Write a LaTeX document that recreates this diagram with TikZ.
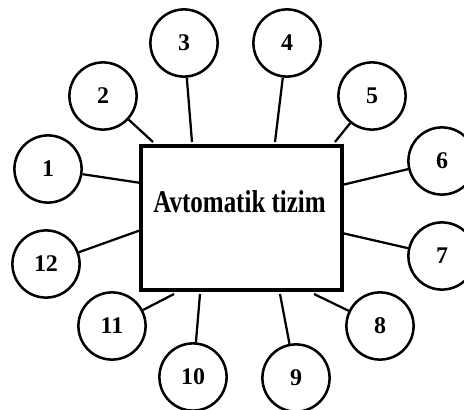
\documentclass[tikz,border=0pt]{standalone}
\usepackage{fontspec}
\setmainfont{Liberation Serif}
\usepackage{tikz}

\tikzset{
  numnode/.style={draw, circle, line width=1.8pt, minimum size=1.68cm, inner sep=0pt, font=\fontsize{17}{17}\selectfont\bfseries},
  sysbox/.style={draw, line width=3.2pt, minimum width=5.025cm, minimum height=3.6cm, inner sep=0pt},
  link/.style={line width=1.6pt}
}

\begin{document}
\begin{tikzpicture}
\clip (0,0) rectangle (11.6,10.25);
\fill[white] (0,0) rectangle (11.6,10.25);

% Main system box
\node[sysbox] (box) at (6.0375,4.8) {};
\node[font=\fontsize{22.5}{22.5}\selectfont\bfseries] (title) at (5.99,5.2) {\scalebox{0.79}[1]{Avtomatik tizim}};

% Numbered elements round the box
\foreach \n/\cx/\cy/\ex/\ey in {
    1/1.2/6.025/3.525/5.675,
    2/2.575/7.85/3.825/6.7,
    3/4.6/9.175/4.8/6.7,
    4/7.175/9.175/6.875/6.7,
    5/9.3/7.85/8.375/6.7,
    6/11.05/6.225/8.55/5.625,
    7/11.05/3.85/8.55/4.425,
    8/9.5/2.1/7.85/2.9,
    9/7.4/0.8/7.0/2.9,
    10/4.825/0.825/5.0/2.9,
    11/2.8/2.1/4.35/2.9,
    12/1.15/3.65/3.525/4.5} {
  \node[numnode] (c\n) at (\cx,\cy) {\n};
  \coordinate (e\n) at (\ex,\ey);
  \draw[link] (c\n) -- (e\n);
}
\end{tikzpicture}
\end{document}
